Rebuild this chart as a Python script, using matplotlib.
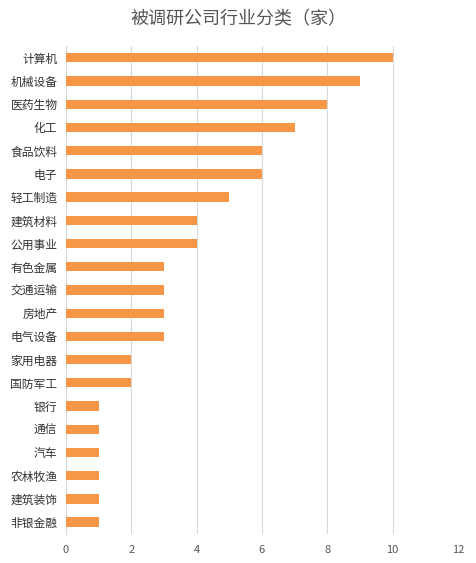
import matplotlib.pyplot as plt

plt.rcParams['font.family'] = ['Noto Sans CJK SC', 'DejaVu Sans']

categories = ["计算机", "机械设备", "医药生物", "化工", "食品饮料", "电子", "轻工制造",
              "建筑材料", "公用事业", "有色金属", "交通运输", "房地产", "电气设备",
              "家用电器", "国防军工", "银行", "通信", "汽车", "农林牧渔", "建筑装饰", "非银金融"]
counts = [10, 9, 8, 7, 6, 6, 5, 4, 4, 3, 3, 3, 3, 2, 2, 1, 1, 1, 1, 1, 1]

fig = plt.figure(figsize=(4.77, 5.63), dpi=100)
ax = fig.add_axes([0.138, 0.052, 0.822, 0.866])
pos = list(range(len(categories)))
ax.barh(pos, counts, height=0.4, color="#F79646", zorder=3)
ax.set_yticks(pos)
ax.set_yticklabels(categories, fontsize=8.5, color="#333333")
ax.set_ylim(len(categories) - 0.5, -0.5)
ax.set_xlim(0, 12)
ax.set_xticks(range(0, 13, 2))
ax.tick_params(axis="x", labelsize=8, colors="#555555", length=0, pad=8)
ax.tick_params(axis="y", length=0, pad=6)
ax.grid(axis="x", color="#d9d9d9", linewidth=0.8, zorder=0)
for s in ["top", "right", "bottom"]:
    ax.spines[s].set_visible(False)
ax.spines["left"].set_color("#d9d9d9")
fig.text(0.5, 0.965, "被调研公司行业分类（家）", ha="center", va="center",
         fontsize=13, color="#555555")

fig.savefig("out.png", dpi=100)
